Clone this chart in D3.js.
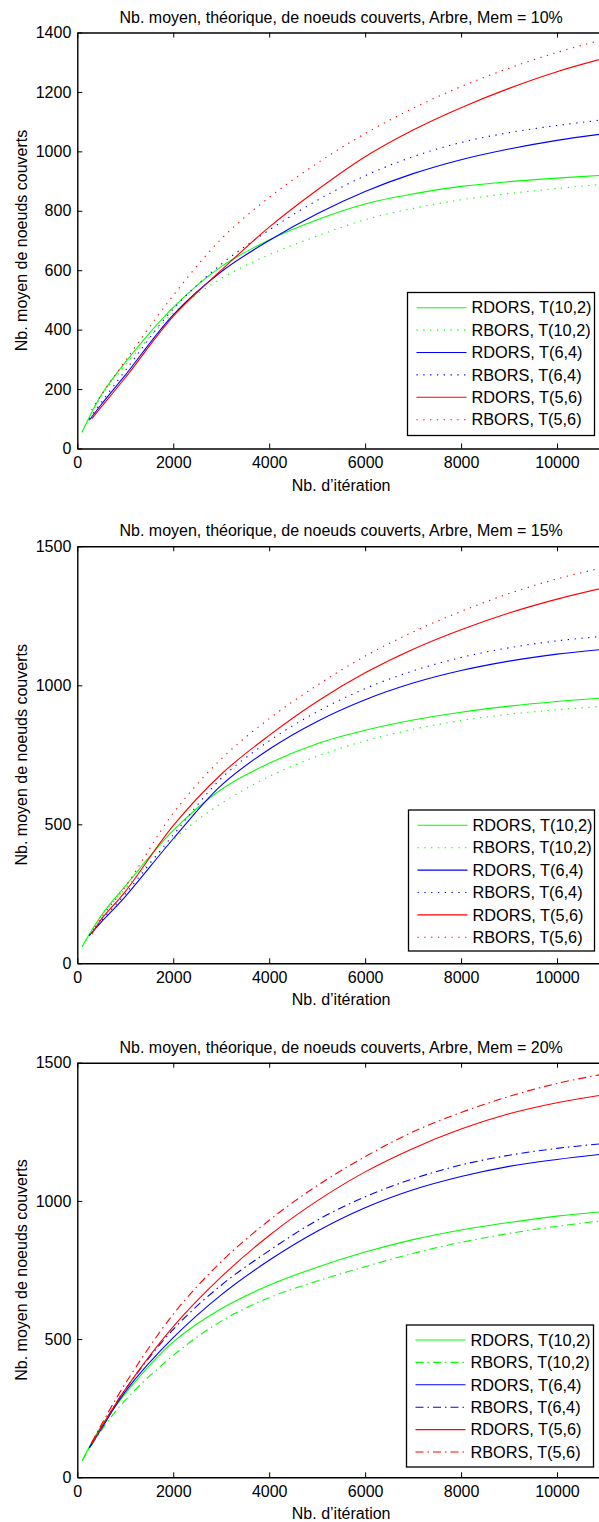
<!DOCTYPE html>
<html><head><meta charset="utf-8">
<script src="https://cdn.jsdelivr.net/npm/d3@7"></script>
<style>
html,body{margin:0;padding:0;background:#fff;overflow:hidden;}
svg{display:block;font-family:"Liberation Sans",Arial,sans-serif;}
</style></head>
<body>
<script>
// ---- data ----
const iterGreen = [100, 500, 1000, 2000, 3000, 4000, 5000, 6000, 7000, 8000, 9000, 10000, 11000];
const iterBlue  = [250, 500, 1000, 2000, 3000, 4000, 5000, 6000, 7000, 8000, 9000, 10000, 11000];
const iterRed   = [300, 500, 1000, 2000, 3000, 4000, 5000, 6000, 7000, 8000, 9000, 10000, 11000];

// Mem = 10%
const m10_RDORS_T10_2 = [55, 180, 290, 475, 612, 702, 770, 823, 857, 882, 898, 910, 920];
const m10_RBORS_T10_2 = [55, 175, 280, 455, 572, 652, 715, 770, 808, 837, 858, 875, 890];
const m10_RDORS_T6_4  = [95, 148, 247, 450, 595, 700, 790, 865, 925, 972, 1008, 1037, 1060];
const m10_RBORS_T6_4  = [100, 155, 262, 470, 620, 735, 835, 918, 982, 1030, 1063, 1087, 1107];
const m10_RDORS_T5_6  = [100, 140, 238, 445, 600, 745, 870, 982, 1072, 1147, 1212, 1268, 1314];
const m10_RBORS_T5_6  = [130, 180, 295, 515, 705, 845, 960, 1060, 1145, 1218, 1280, 1333, 1378];

// Mem = 15%
const m15_RDORS_T10_2 = [60, 172, 278, 478, 625, 720, 790, 838, 875, 903, 925, 942, 955];
const m15_RBORS_T10_2 = [60, 168, 268, 445, 575, 672, 745, 800, 842, 873, 896, 912, 925];
const m15_RDORS_T6_4  = [100, 148, 240, 448, 640, 770, 870, 948, 1008, 1053, 1087, 1112, 1130];
const m15_RBORS_T6_4  = [100, 153, 250, 462, 665, 800, 905, 988, 1052, 1100, 1135, 1160, 1177];
const m15_RDORS_T5_6  = [105, 158, 258, 495, 680, 820, 942, 1045, 1130, 1200, 1260, 1310, 1352];
const m15_RBORS_T5_6  = [110, 165, 275, 540, 735, 880, 1000, 1105, 1192, 1266, 1330, 1383, 1425];

// Mem = 20%
const m20_RDORS_T10_2 = [60, 185, 303, 490, 610, 695, 760, 815, 860, 895, 922, 945, 962];
const m20_RBORS_T10_2 = [60, 170, 279, 441, 565, 650, 710, 762, 810, 850, 882, 908, 930];
const m20_RDORS_T6_4  = [105, 175, 310, 505, 660, 785, 890, 975, 1040, 1088, 1125, 1150, 1170];
const m20_RBORS_T6_4  = [108, 180, 318, 535, 695, 820, 930, 1015, 1080, 1130, 1165, 1190, 1208];
const m20_RDORS_T5_6  = [120, 180, 318, 545, 725, 875, 1000, 1105, 1190, 1260, 1315, 1355, 1385];
const m20_RBORS_T5_6  = [125, 190, 339, 590, 780, 930, 1055, 1160, 1250, 1320, 1378, 1425, 1460];

const legendLabels = ["RDORS, T(10,2)", "RBORS, T(10,2)", "RDORS, T(6,4)", "RBORS, T(6,4)", "RDORS, T(5,6)", "RBORS, T(5,6)"];
const titles = ["Nb. moyen, théorique, de noeuds couverts, Arbre, Mem = 10%",
                "Nb. moyen, théorique, de noeuds couverts, Arbre, Mem = 15%",
                "Nb. moyen, théorique, de noeuds couverts, Arbre, Mem = 20%"];
const xTicks = [0, 2000, 4000, 6000, 8000, 10000];
const yTicks10 = [0, 200, 400, 600, 800, 1000, 1200, 1400];
const yTicks15 = [0, 500, 1000, 1500];
const yTicks20 = [0, 500, 1000, 1500];
const xLabel = "Nb. d\u2019itération";
const yLabel = "Nb. moyen de noeuds couverts";

// ---- drawing ----
const W = 599, H = 1522;
const svg = d3.select("body").append("svg").attr("width", W).attr("height", H);

const colors = ["#00ff00", "#00ff00", "#0000ff", "#0000ff", "#ff0000", "#ff0000"];
const iters = [iterGreen, iterGreen, iterBlue, iterBlue, iterRed, iterRed];

const panels = [
  {title: titles[0], top: 32.5, bottom: 448.5, yMax: 1400, yTicks: yTicks10,
   series: [m10_RDORS_T10_2, m10_RBORS_T10_2, m10_RDORS_T6_4, m10_RBORS_T6_4, m10_RDORS_T5_6, m10_RBORS_T5_6],
   dash: "dot", legend: {x: 407.5, y: 292.5, w: 187, h: 143, row0: 307.7}},
  {title: titles[1], top: 546.3, bottom: 963.3, yMax: 1500, yTicks: yTicks15,
   series: [m15_RDORS_T10_2, m15_RBORS_T10_2, m15_RDORS_T6_4, m15_RBORS_T6_4, m15_RDORS_T5_6, m15_RBORS_T5_6],
   dash: "dot", legend: {x: 408.5, y: 810, w: 186, h: 141, row0: 825.3}},
  {title: titles[2], top: 1062.7, bottom: 1477.3, yMax: 1500, yTicks: yTicks20,
   series: [m20_RDORS_T10_2, m20_RBORS_T10_2, m20_RDORS_T6_4, m20_RBORS_T6_4, m20_RDORS_T5_6, m20_RBORS_T5_6],
   dash: "dashdot", legend: {x: 406.5, y: 1325, w: 187, h: 142, row0: 1340}}
];

const left = 77.3, right = 605;
const x = d3.scaleLinear().domain([0, 11000]).range([left, right]);

panels.forEach((p, pi) => {
  const y = d3.scaleLinear().domain([0, p.yMax]).range([p.bottom, p.top]);
  const g = svg.append("g");
  const clipId = "clip" + pi;
  svg.append("clipPath").attr("id", clipId).append("rect")
    .attr("x", left).attr("y", p.top).attr("width", right - left).attr("height", p.bottom - p.top);

  const dashFor = (i) => {
    if (i % 2 === 0) return null;
    return p.dash === "dot" ? "1.3,5.5" : "8,4,1.5,4";
  };

  const line = d3.line().x(d => x(d[0])).y(d => y(d[1])).curve(d3.curveCatmullRom.alpha(0.5));
  const lines = g.append("g").attr("clip-path", `url(#${clipId})`);
  p.series.forEach((vals, i) => {
    const pts = vals.map((v, k) => [iters[i][k], v]);
    lines.append("path").attr("d", line(pts)).attr("fill", "none")
      .attr("stroke", colors[i]).attr("stroke-width", 1.1)
      .attr("stroke-dasharray", dashFor(i));
  });

  // axes
  const xb = g.append("g").attr("transform", `translate(0,${p.bottom})`)
    .call(d3.axisBottom(x).tickValues(xTicks).tickSizeInner(-5).tickSizeOuter(0).tickPadding(9).tickFormat(d3.format("d")));
  const xt = g.append("g").attr("transform", `translate(0,${p.top})`)
    .call(d3.axisTop(x).tickValues(xTicks).tickSizeInner(-5).tickSizeOuter(0).tickFormat(""));
  const yl = g.append("g").attr("transform", `translate(${left},0)`)
    .call(d3.axisLeft(y).tickValues(p.yTicks).tickSizeInner(-5).tickSizeOuter(0).tickPadding(6).tickFormat(d3.format("d")));
  [xb, xt, yl].forEach(a => {
    a.select(".domain").attr("stroke", "#000").attr("stroke-width", 1.4);
    a.selectAll(".tick line").attr("stroke", "#000").attr("stroke-width", 1);
    a.selectAll("text").attr("font-size", 16).attr("fill", "#000")
      .attr("font-family", "Liberation Sans, Arial, sans-serif");
  });
  xb.selectAll(".tick text").attr("dy", "0.71em").attr("y", 8);

  // title
  g.append("text").attr("x", (left + right) / 2).attr("y", p.top - 10)
    .attr("text-anchor", "middle").attr("font-size", 16).text(p.title);
  // x label
  g.append("text").attr("x", (left + right) / 2).attr("y", p.bottom + 42)
    .attr("text-anchor", "middle").attr("font-size", 16).text(xLabel);
  // y label
  g.append("text").attr("transform", `translate(27,${(p.top + p.bottom) / 2}) rotate(-90)`)
    .attr("text-anchor", "middle").attr("font-size", 16).text(yLabel);

  // legend
  const L = p.legend;
  const lg = g.append("g");
  lg.append("rect").attr("x", L.x).attr("y", L.y).attr("width", L.w).attr("height", L.h)
    .attr("fill", "#fff").attr("stroke", "#000").attr("stroke-width", 1.3);
  legendLabels.forEach((lab, i) => {
    const ry = L.row0 + i * 22.4;
    lg.append("line").attr("x1", L.x + 9).attr("x2", L.x + 59).attr("y1", ry).attr("y2", ry)
      .attr("stroke", colors[i]).attr("stroke-width", 1.1).attr("stroke-dasharray", dashFor(i));
    lg.append("text").attr("x", L.x + 64).attr("y", ry).attr("dy", "0.35em")
      .attr("font-size", 16.3).text(lab);
  });
});
</script>
</body></html>
